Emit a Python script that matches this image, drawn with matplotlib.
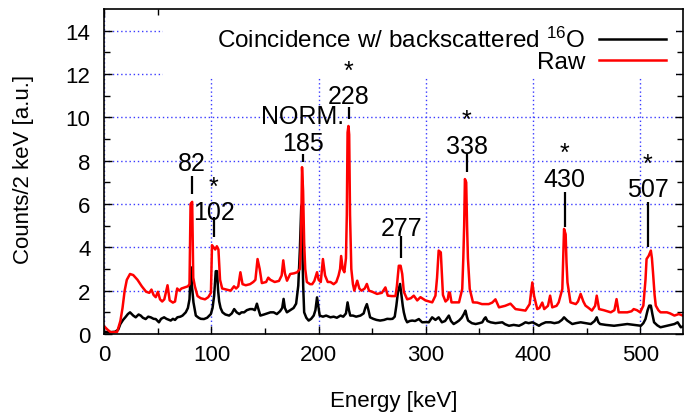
import matplotlib
matplotlib.use("Agg")
import matplotlib.pyplot as plt
from matplotlib.patches import Rectangle

plt.rcParams['font.family'] = ['Liberation Sans', 'DejaVu Sans']
plt.rcParams['mathtext.fontset'] = 'custom'
plt.rcParams['mathtext.rm'] = 'Liberation Sans'
plt.rcParams['mathtext.it'] = 'Liberation Sans'

# ---------------- data ----------------
raw_energy = [0, 3, 6, 12, 15, 17, 19, 21, 24, 27, 31, 35, 39, 42, 44, 46, 48, 50, 52, 54,
              56, 59, 61, 64, 66, 68, 70, 72, 75, 78, 79.5, 80.5, 82, 83, 84.5, 87, 90, 94, 97, 99.5,
              100.5, 102, 103.5, 105, 106.5, 108, 110, 114, 118, 121, 123, 125, 127, 129, 132, 136, 139, 141, 143, 145,
              147, 151, 153, 155, 159, 163, 165.5, 167, 168.5, 170.5, 173.5, 177, 180, 182.5, 183.5, 184.5, 185.5, 186.5, 187.5, 189,
              192, 194, 196, 198.5, 200, 202, 204, 206, 208.5, 211, 214, 216.5, 218.6, 220, 221, 222.5, 224, 225.5, 226.3, 227,
              227.8, 228.5, 229.3, 230.5, 232, 233.3, 236, 238, 240, 243, 245, 247, 250, 254.5, 259, 262.3, 264.5, 268, 271.7, 273,
              274.8, 276.5, 278, 279.5, 282.6, 286, 288.8, 292, 295, 299.7, 306, 309, 310.5, 312, 314, 315, 316, 318.4, 320.5, 321.5,
              322.5, 324, 331, 334, 335, 335.8, 336.5, 337.7, 338.5, 339.3, 341, 344, 348, 352.4, 358.7, 362, 365, 368.3, 374, 379,
              383.7, 390, 393, 396.9, 399.4, 401, 404, 406, 408.7, 410.5, 414, 416, 418, 422, 424, 427.4, 428.2, 429, 430.5, 431.3,
              432.2, 435, 440, 442, 444.5, 447, 449, 452, 455, 458, 459.5, 461.7, 466, 472.6, 476, 478, 480, 484, 488, 492,
              494, 497, 500, 503, 505, 506, 508, 510, 511, 512, 513.5, 514.6, 517, 519, 525, 528, 532, 536, 540]
raw_counts = [0.35, 0.2, 0.08, 0.1, 0.6, 1.2, 2.0, 2.5, 2.77, 2.72, 2.5, 2.2, 1.95, 1.9, 2.05, 1.8, 1.7, 1.95, 1.6, 1.5,
              1.6, 2.25, 1.55, 1.45, 1.5, 2.1, 2.0, 2.1, 2.15, 2.2, 2.3, 6.0, 6.1, 2.6, 2.2, 1.75, 1.65, 1.6, 1.7, 1.9,
              4.1, 4.0, 3.9, 4.05, 3.9, 2.5, 2.1, 2.05, 2.0, 2.2, 2.1, 2.2, 2.85, 2.3, 2.25, 2.3, 2.4, 2.5, 3.46, 3.0,
              2.35, 2.4, 2.6, 2.5, 2.4, 2.45, 2.7, 3.4, 2.8, 2.46, 2.77, 2.8, 2.85, 3.0, 4.1, 7.7, 6.6, 4.2, 3.0, 2.4,
              2.3, 2.3, 2.45, 2.85, 2.5, 2.4, 3.46, 2.7, 2.4, 2.4, 2.3, 2.4, 2.7, 3.0, 3.6, 3.0, 2.85, 3.5, 5.5, 9.3,
              9.6, 9.2, 5.5, 3.0, 2.3, 2.0, 2.46, 2.1, 2.0, 2.1, 2.31, 2.0, 1.95, 1.85, 1.9, 2.15, 1.77, 1.75, 1.75, 2.2,
              3.15, 3.15, 2.77, 1.95, 1.6, 1.65, 1.77, 1.55, 1.7, 1.55, 1.46, 1.77, 2.6, 3.85, 3.77, 2.8, 1.8, 1.5, 1.6, 1.92,
              1.9, 1.46, 1.46, 2.08, 3.5, 5.0, 7.15, 7.0, 5.0, 3.5, 2.08, 1.46, 1.45, 1.38, 1.38, 1.45, 1.6, 1.23, 1.3, 1.4,
              1.15, 1.1, 1.08, 1.38, 2.38, 1.77, 1.15, 1.2, 1.45, 1.15, 1.3, 1.77, 1.23, 1.3, 1.46, 2.08, 3.5, 4.85, 4.6, 3.3,
              2.38, 1.46, 1.38, 1.5, 1.85, 1.5, 1.31, 1.2, 1.08, 1.3, 1.77, 1.15, 1.1, 1.0, 1.1, 1.61, 1.0, 1.0, 1.0, 1.05,
              1.15, 1.1, 1.0, 1.31, 2.5, 3.46, 3.61, 3.85, 3.5, 2.85, 1.8, 1.31, 1.1, 1.0, 1.0, 0.95, 0.85, 0.92, 0.85]

coinc_energy = [0, 4, 10, 13, 15, 17.5, 19.6, 22, 24, 27, 29.3, 32, 34, 36, 38.6, 41, 43.3, 46, 48, 51,
                53, 55.8, 58, 62, 64, 66, 68.2, 71, 73, 76, 78, 79.5, 80.8, 81.8, 83.2, 85.4, 88, 90, 93, 96,
                99.4, 101, 102.5, 104, 105.2, 106.2, 107.2, 108.5, 110.3, 113, 116.5, 119, 121.2, 123.5, 126, 128, 130.5, 133, 136, 138.3,
                140.5, 142.4, 143.5, 145.6, 149, 152, 155, 158, 161, 164, 166, 167.3, 168.5, 170.4, 173.5, 176.6, 179, 181, 182.5, 183.8,
                184.8, 185.6, 186.5, 188.5, 190.7, 193, 195.4, 197, 198.5, 199.7, 201, 204, 207, 211, 214, 217, 220.4, 223, 225.5, 227,
                228.3, 229.5, 232, 235, 239, 242, 243.5, 245, 246.5, 248, 251, 254, 257.4, 261, 264, 266.7, 269, 271, 272.5, 274,
                276, 277.3, 278.5, 279.5, 281, 282.6, 285, 287.3, 290, 293.5, 296.6, 300, 302.8, 305.9, 309, 312, 315, 318, 321.5, 323.5,
                326, 329, 331, 333.5, 335.5, 337, 338.3, 339.5, 343, 346.5, 350, 352.7, 354.5, 355.8, 357.5, 360.5, 365, 371.4, 374, 377.6,
                382, 387, 390, 393, 396, 399.4, 402, 405.6, 408, 411.9, 416.5, 420, 424, 427, 429, 432, 436.7, 440, 444.5, 449,
                454, 457.5, 459.5, 461, 462.6, 468, 475.7, 482, 488, 494, 500.7, 503, 505, 507, 508.5, 510, 511.5, 513, 516, 519,
                525, 528, 532, 535, 538, 540]
coinc_counts = [0.1, 0.08, 0.1, 0.2, 0.46, 0.65, 0.77, 0.92, 1.0, 0.85, 0.77, 0.9, 0.85, 0.75, 0.69, 0.8, 0.77, 0.7, 0.69, 0.54,
                0.7, 0.77, 0.7, 0.62, 0.7, 0.65, 0.77, 0.8, 0.85, 1.0, 1.2, 1.6, 3.08, 2.2, 1.46, 0.85, 0.75, 0.7, 0.69, 0.75,
                0.92, 1.2, 1.77, 2.9, 2.9, 2.0, 1.5, 1.2, 1.0, 0.9, 0.85, 0.95, 1.15, 1.0, 0.92, 1.0, 1.0, 1.1, 1.15, 1.15,
                1.1, 1.4, 1.2, 0.85, 0.9, 0.95, 1.0, 1.0, 0.92, 1.05, 1.2, 1.62, 1.2, 1.0, 1.1, 1.2, 1.4, 2.23, 3.9, 5.9,
                4.0, 2.2, 1.0, 0.75, 0.62, 0.7, 0.85, 1.1, 1.69, 1.3, 0.85, 0.8, 0.85, 0.77, 0.8, 0.75, 0.85, 0.8, 0.95, 1.46,
                1.1, 0.85, 0.85, 0.8, 0.85, 0.95, 1.2, 1.38, 1.1, 0.77, 0.7, 0.65, 0.62, 0.65, 0.7, 0.69, 0.7, 0.8, 1.3, 1.92,
                2.31, 1.77, 1.3, 1.0, 0.7, 0.54, 0.6, 0.62, 0.6, 0.69, 0.54, 0.55, 0.54, 0.77, 0.65, 0.77, 0.54, 0.6, 0.85, 0.6,
                0.46, 0.55, 0.62, 0.75, 0.92, 1.08, 0.8, 0.62, 0.5, 0.46, 0.5, 0.54, 0.7, 0.77, 0.6, 0.54, 0.5, 0.54, 0.45, 0.38,
                0.42, 0.38, 0.45, 0.54, 0.5, 0.54, 0.48, 0.38, 0.46, 0.54, 0.54, 0.5, 0.54, 0.65, 0.77, 0.62, 0.46, 0.5, 0.54, 0.5,
                0.46, 0.6, 0.77, 0.55, 0.46, 0.42, 0.38, 0.42, 0.46, 0.42, 0.38, 0.5, 0.69, 1.1, 1.31, 1.31, 0.9, 0.54, 0.4, 0.31,
                0.38, 0.42, 0.46, 0.54, 0.31, 0.35]

series_labels = ["Coincidence w/ backscattered $^{16}$O", "Raw"]

x_ticks = [0, 100, 200, 300, 400, 500]
y_ticks = [0, 2, 4, 6, 8, 10, 12, 14]

# peak annotations (text is "*" above the energy where the reference marks it)
peak_texts = ["82", "*\n102", "NORM.\n185", "*\n228", "277", "*\n338", "*\n430", "*\n507"]
peak_x = [82, 102, 185, 228, 277, 338, 429.5, 507]
peak_label_y = [8.0, 5.72, 8.9, 11.1, 5.0, 8.77, 7.25, 6.78]   # centre of the number line
peak_linespacing = [1.2, 1.1, 1.16, 1.07, 1.2, 1.1, 1.1, 1.07]
peak_line_top = [7.3, 5.4, 8.3, 10.47, 4.52, 8.3, 6.55, 6.1]
peak_line_bottom = [6.46, 4.48, 7.93, 9.92, 3.5, 7.47, 4.94, 4.0]

# ---------------- figure ----------------
W, H = 685, 414
fig = plt.figure(figsize=(W / 100, H / 100), dpi=100)
L, R, T, B = 104.3, 683, 10, 335
ax = fig.add_axes([L / W, 1 - B / H, (R - L) / W, (B - T) / H])

FS = 16      # tick and axis labels
FS_ANN = 18  # peak labels
FS_LEG = 17.5
ax.set_xlim(0, 540)
ax.set_ylim(0, 15)
ax.set_xticks(x_ticks)
ax.set_yticks(y_ticks)
ax.set_xticks(range(50, 540, 100), minor=True)
ax.set_yticks(range(1, 15, 2), minor=True)
ax.tick_params(which='both', direction='in', top=True, right=True, width=1.0, color='black')
ax.tick_params(which='major', length=5.5)
ax.tick_params(which='minor', length=4)
ax.tick_params(axis='x', which='major', labelsize=FS, pad=7)
ax.tick_params(axis='y', which='major', labelsize=FS, pad=10)
for s in ax.spines.values():
    s.set_linewidth(1.2)

ax.set_axisbelow(True)
ax.grid(True, which='major', color='#3a3aff', linestyle=(0, (1, 2)), linewidth=1.0)

# white key background (hides grid behind the key, like gnuplot's opaque key)
kx0, kx1, ky0, ky1 = 163, 676, 10, 79
ax.add_patch(Rectangle(((kx0 - L) / (R - L), (B - ky1) / (B - T)), (kx1 - kx0) / (R - L), (ky1 - ky0) / (B - T),
                       transform=ax.transAxes, facecolor='white', edgecolor='none', zorder=1))

ln1, = ax.plot(coinc_energy, coinc_counts, color='black', linewidth=1.8, zorder=2, label=series_labels[0])
ln2, = ax.plot(raw_energy, raw_counts, color='#ff0000', linewidth=1.8, zorder=2.1, label=series_labels[1])

leg = ax.legend(handles=[ln1, ln2], loc='upper right', bbox_to_anchor=((666 - L) / (R - L), (B - 28) / (B - T)),
                frameon=False, markerfirst=False, fontsize=FS_LEG, handlelength=2.75, handletextpad=0.58,
                labelspacing=-0.04, borderpad=0, borderaxespad=0)
leg.set_zorder(2.5)

# bottom of a text box lies ~0.57 em below the centre of its last (number) line
em_units = FS_ANN / 72 * 100 / ((B - T) / 15)
for txt, x, ly, lsp, lt, lb in zip(peak_texts, peak_x, peak_label_y, peak_linespacing,
                                   peak_line_top, peak_line_bottom):
    ax.text(x, ly - 0.57 * em_units, txt, ha='center', va='bottom', multialignment='center',
            linespacing=lsp, fontsize=FS_ANN, zorder=4)
    ax.vlines(x, lb, lt, color='black', linewidth=1.6, zorder=4)

ax.set_xlabel("Energy [keV]", fontsize=FS)
ax.set_ylabel("Counts/2 keV [a.u.]", fontsize=FS)
ax.xaxis.set_label_coords(0.5, -(391 - B) / (B - T))
ax.yaxis.set_label_coords(-(L - 34) / (R - L), 0.508)

fig.savefig("out.png", dpi=100)
